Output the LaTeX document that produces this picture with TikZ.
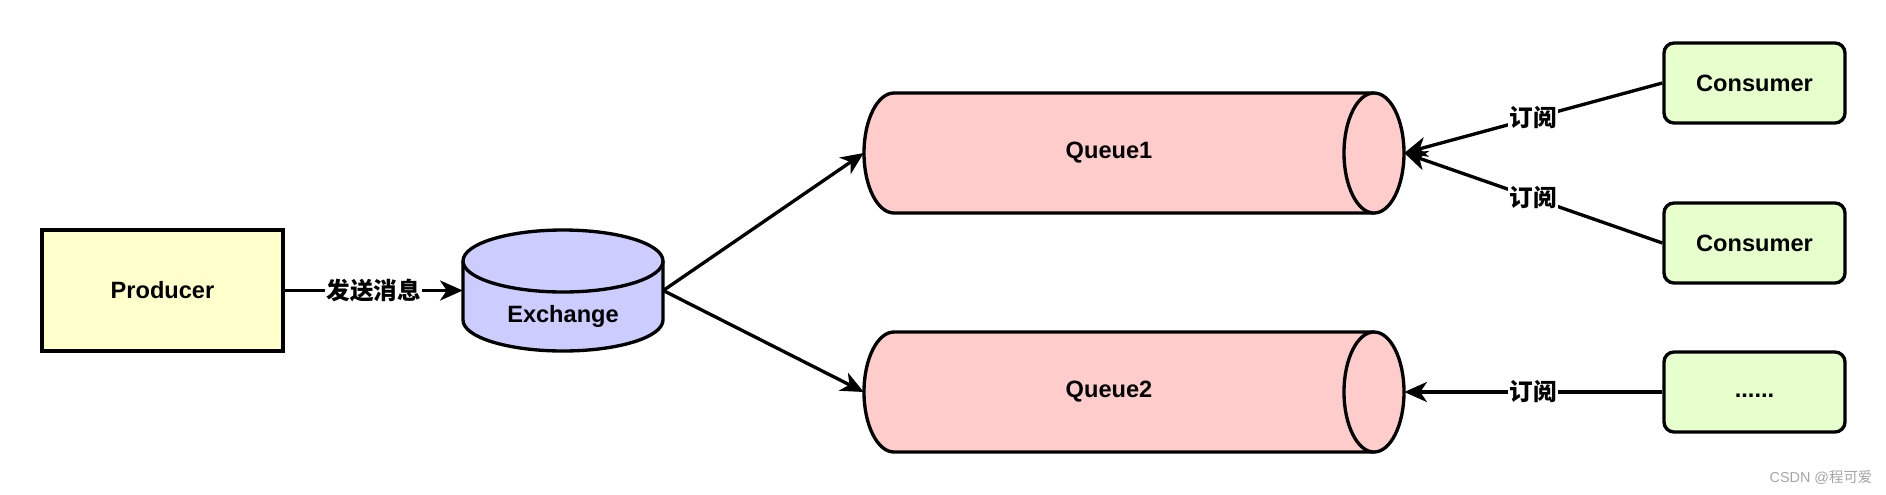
\documentclass[tikz,border=0pt]{standalone}
\usepackage{fontspec}
\setmainfont{Liberation Sans}
\newfontfamily\cjk{Noto Sans CJK SC}
\usetikzlibrary{arrows.meta}
\definecolor{prodfill}{HTML}{FFFFCC}
\definecolor{exfill}{HTML}{CCCCFF}
\definecolor{qfill}{HTML}{FFCCCC}
\definecolor{consfill}{HTML}{E6FFCC}
\definecolor{wmgray}{RGB}{165,165,165}
\tikzset{
  outline/.style={draw=black, line width=2.5pt},
  prodbox/.style={outline, fill=prodfill, rectangle, minimum width=180.75pt, minimum height=90.75pt, inner sep=0pt},
  consbox/.style={outline, fill=consfill, rectangle, rounded corners=7.5pt, minimum width=135.75pt, minimum height=60pt, inner sep=0pt},
  anchorbox/.style={rectangle, inner sep=0pt},
  txt/.style={font=\fontsize{17.7}{21}\selectfont\bfseries, inner sep=0pt},
  conn/.style={line width=2.5pt, -{Stealth[length=17pt, width=15pt, inset=5pt]}},
  edgelbl/.style={font=\fontsize{17.7}{21}\selectfont\cjk\bfseries, fill=white, inner sep=1pt},
  wm/.style={font=\fontsize{10.8}{13}\selectfont, text=wmgray, inner sep=0pt}
}
\begin{document}
\begin{tikzpicture}[x=0.75pt, y=0.75pt]
\useasboundingbox (0,0) rectangle (1886,-494);
% Producer
\node[prodbox] (producer) at (162.5,-290.5) {};
\node[txt] (prodtxt) at (162.5,-290.5) {Producer};
% Exchange cylinder
\fill[exfill] (463,-261) -- (463,-320) arc[start angle=180, end angle=360, x radius=100, y radius=31] -- (663,-261) arc[start angle=0, end angle=180, x radius=100, y radius=31] -- cycle;
\draw[line width=2.5pt] (463,-261) -- (463,-320) arc[start angle=180, end angle=360, x radius=100, y radius=31] -- (663,-261);
\draw[line width=2.5pt, fill=exfill] (563,-261) ellipse[x radius=100, y radius=31];
\node[anchorbox, minimum width=150pt, minimum height=90.75pt] (exch) at (563,-290.5) {};
\node[txt] (exchtxt) at (563,-316) {Exchange};
% Queues
\foreach \qy/\qn/\ql in {153/q1/Queue1, 392/q2/Queue2} {
  \fill[qfill] (894,-\qy+60) -- (1374,-\qy+60) arc[start angle=90, end angle=-90, x radius=30, y radius=60] -- (894,-\qy-60) arc[start angle=270, end angle=90, x radius=30, y radius=60] -- cycle;
  \draw[line width=2.5pt] (1374,-\qy+60) -- (894,-\qy+60) arc[start angle=90, end angle=270, x radius=30, y radius=60] -- (1374,-\qy-60);
  \draw[line width=2.5pt, fill=qfill] (1374,-\qy) ellipse[x radius=30, y radius=60];
  \node[anchorbox, minimum width=405pt, minimum height=90pt] (\qn) at (1134,-\qy) {};
  \node[txt] (\qn txt) at (1109,-\qy) {\ql};
}
% Consumers
\node[consbox] (c1) at (1754.5,-83) {};
\node[txt] (c1txt) at (1754.5,-83) {Consumer};
\node[consbox] (c2) at (1754.5,-243) {};
\node[txt] (c2txt) at (1754.5,-243) {Consumer};
\node[consbox] (c3) at (1754.5,-392) {};
\node[txt] (c3txt) at (1754.5,-392) {\vphantom{Cg}......};
% Connectors
\draw[conn] (producer.east) -- node[edgelbl] {发送消息} (exch.west);
\draw[conn] (exch.east) -- (q1.west);
\draw[conn] (exch.east) -- (q2.west);
\draw[conn] (c1.west) -- node[edgelbl] {订阅} (q1.east);
\draw[conn] (c2.west) -- node[edgelbl] {订阅} (q1.east);
\draw[conn] (c3.west) -- node[edgelbl] {订阅} (q2.east);
% Watermark
\node[wm] (wmark) at (1821,-478) {CSDN @{\cjk 程可爱}};
\end{tikzpicture}
\end{document}
